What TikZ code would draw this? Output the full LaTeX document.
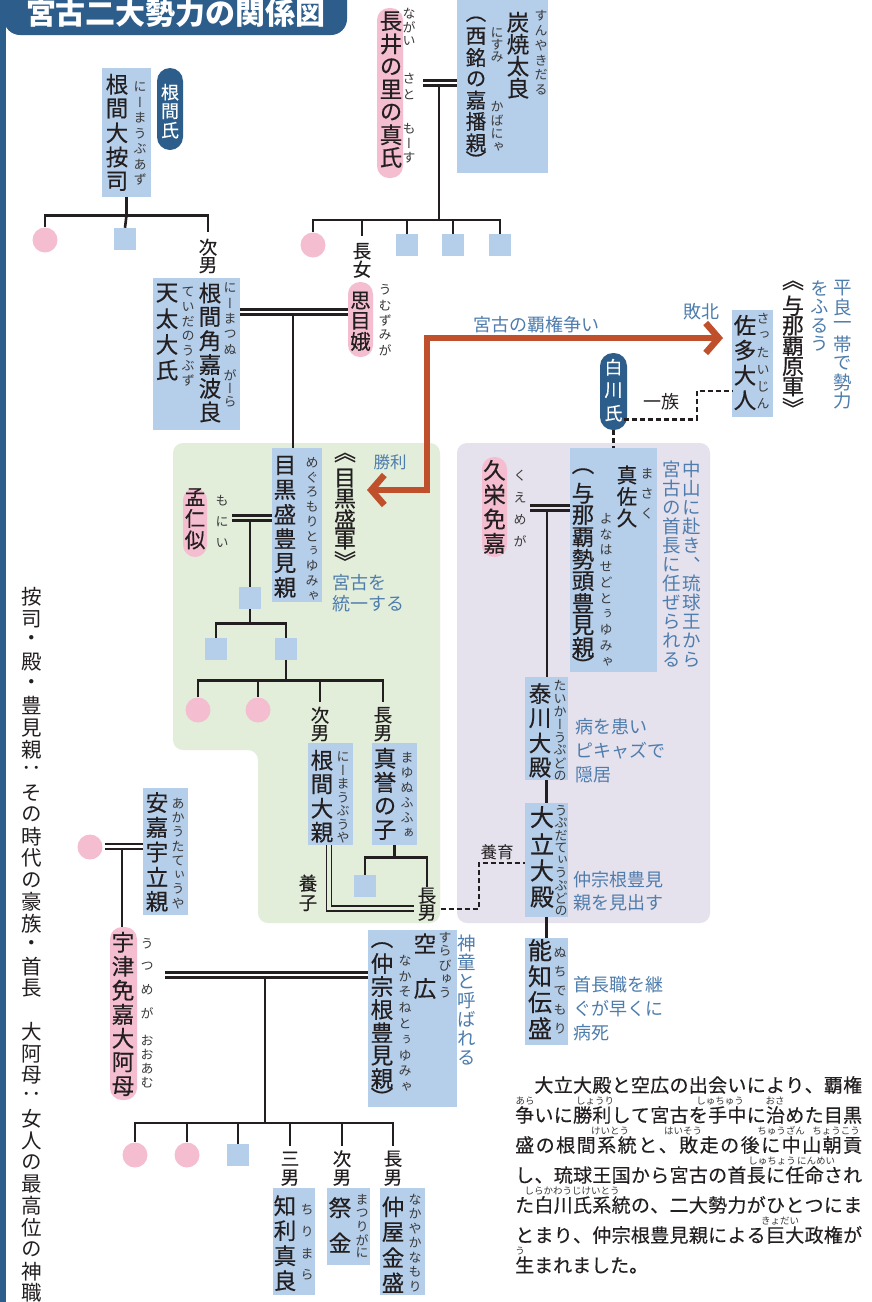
\documentclass[tikz,border=0pt]{standalone}
\usepackage{fontspec}
\setmainfont{Noto Sans CJK JP}
\newfontfamily\vjp[RawFeature=+vert]{Noto Sans CJK JP}
\newfontfamily\vjpm[RawFeature=+vert,FakeBold=0.4]{Noto Sans CJK JP}
\newfontfamily\hjpm[FakeBold=0.3]{Noto Sans CJK JP}
\usetikzlibrary{arrows.meta,calc}
\definecolor{ink}{HTML}{231F20}
\definecolor{dblue}{HTML}{2D5E8B}
\definecolor{boxblue}{HTML}{B5CEEA}
\definecolor{pinkc}{HTML}{F4BDD0}
\definecolor{greenbg}{HTML}{E2EEDA}
\definecolor{purplebg}{HTML}{E5E1ED}
\definecolor{bgray}{HTML}{4E7DAD}
\definecolor{orangec}{HTML}{C0502C}
\definecolor{rubyc}{HTML}{3A3A3A}
\makeatletter
\newdimen\vt@cur \newdimen\vt@step
\newcommand\vtsh{\global\vt@cur=0.6\vt@step}
\newcommand\vtxt[2]{\vt@step=#1pt\relax\vbox{\offinterlineskip\@tfor\vt@c:=#2\do{\global\vt@cur=\vt@step\setbox0=\hbox{\vt@c}\vbox to\vt@cur{\vss\hbox to 1.05em{\hss\box0\hss}\vss}}}}
\newcommand\jline[2][347pt]{\hbox to #1{\@tfor\jl@c:=#2\do{\jl@c\hfil}\unskip}}
\makeatother
\newcommand\VT[5][]{\node[vt,#1] (#2) at (#3) {\vtxt{#4}{#5}};}
\tikzset{
 vt/.style={inner sep=0pt, anchor=north},
 nm/.style={font=\vjpm\fontsize{22.5}{22}\selectfont, text=ink},
 nms/.style={font=\vjpm\fontsize{20.5}{20}\selectfont, text=ink},
 nmk/.style={font=\vjpm\fontsize{22}{22}\selectfont, text=ink},
 nmb/.style={font=\vjpm\fontsize{24}{24}\selectfont, text=ink},
 rb/.style={font=\vjp\fontsize{13}{13}\selectfont, text=rubyc},
 lb/.style={font=\vjpm\fontsize{18.5}{18}\selectfont, text=ink},
 nt/.style={font=\vjp\fontsize{18.5}{18}\selectfont, text=bgray},
 wt/.style={font=\vjpm\fontsize{18}{18}\selectfont, text=white},
 ht/.style={font=\fontsize{18}{18}\selectfont, text=bgray, inner sep=0pt},
 hta/.style={ht, anchor=west},
 para/.style={font=\hjpm\fontsize{19}{19}\selectfont, text=ink, inner sep=0pt, anchor=west},
 pr/.style={font=\fontsize{9.5}{9.5}\selectfont, text=rubyc, inner sep=0pt},
 bx/.style={rectangle, fill=boxblue, inner sep=0pt},
 pk/.style={rectangle, fill=pinkc, inner sep=0pt, rounded corners=12pt},
 bd/.style={rectangle, fill=dblue, inner sep=0pt, rounded corners=13pt},
 pc/.style={circle, fill=pinkc, inner sep=0pt, minimum size=25pt},
 sq/.style={rectangle, fill=boxblue, inner sep=0pt, minimum size=22pt},
 ln/.style={draw=ink, line width=2.6pt},
 dl/.style={draw=ink, line width=2.2pt, dash pattern=on 5pt off 3pt},
 dbl/.style={draw=ink, line width=2.3pt, double=white, double distance=2.8pt},
 dbltwo/.style={draw=ink, line width=1.7pt, double=greenbg, double distance=3.4pt},
 harrow/.style={draw=orangec, line width=6.5pt, {Straight Barb[length=13pt,width=30pt]}-{Straight Barb[length=13pt,width=30pt]}},
}
\begin{document}
\begin{tikzpicture}[x=1pt,y=-1pt]
\useasboundingbox (0,0) rectangle (872,1302);
\fill[white] (0,0) rectangle (872,1302);
% backgrounds
\fill[greenbg, rounded corners=10pt] (173,443) -- (440,443) -- (440,923) -- (258,923) -- (258,750) -- (173,750) -- cycle;
\fill[purplebg, rounded corners=10pt] (457,443) rectangle (710,923);
% title and side bar
\fill[dblue] (0,0) rectangle (6,1302);
\fill[dblue, rounded corners=16pt] (4,-30) rectangle (347,35);
\node[font=\bfseries\fontsize{30}{30}\selectfont, text=white, inner sep=0pt] (title) at (176,13) {宮古二大勢力の関係図};

% boxes
\node[bx, minimum width=49pt, minimum height=129pt] (b1) at (126.5,132.5) {};
\node[bx, minimum width=91pt, minimum height=175pt] (b2) at (502.5,85.5) {};
\node[bx, minimum width=87pt, minimum height=152pt] (b3) at (196.5,354) {};
\node[bx, minimum width=41pt, minimum height=107pt] (b4) at (752.5,363.5) {};
\node[bx, minimum width=50pt, minimum height=154pt] (b5) at (297,525) {};
\node[bx, minimum width=87pt, minimum height=224pt] (b6) at (613.5,560) {};
\node[bx, minimum width=43pt, minimum height=103pt] (b7) at (546.5,728.5) {};
\node[bx, minimum width=43pt, minimum height=114pt] (b8) at (546.5,860) {};
\node[bx, minimum width=43pt, minimum height=107pt] (b9) at (546.5,991.5) {};
\node[bx, minimum width=45pt, minimum height=102pt] (b10) at (330.5,794) {};
\node[bx, minimum width=45pt, minimum height=102pt] (b11) at (394.5,794) {};
\node[bx, minimum width=89pt, minimum height=177pt] (b12) at (412.5,1018.5) {};
\node[bx, minimum width=45pt, minimum height=127pt] (b13) at (165.5,851.5) {};
\node[bx, minimum width=42pt, minimum height=107pt] (b14) at (294,1241.5) {};
\node[bx, minimum width=43pt, minimum height=77pt] (b15) at (348.5,1226.5) {};
\node[bx, minimum width=45pt, minimum height=107pt] (b16) at (402.5,1241.5) {};
% pink pills
\node[pk, minimum width=26pt, minimum height=170pt] (p1) at (390,93) {};
\node[pk, minimum width=25pt, minimum height=75pt] (p2) at (360.5,319.5) {};
\node[pk, minimum width=24pt, minimum height=69pt] (p3) at (195,522.5) {};
\node[pk, minimum width=25pt, minimum height=100pt] (p4) at (494.5,507) {};
\node[pk, minimum width=27pt, minimum height=173pt] (p5) at (123.5,1013.5) {};
% badges
\node[bd, minimum width=26pt, minimum height=82pt] (bd1) at (170,109) {};
\node[bd, minimum width=27pt, minimum height=77pt] (bd2) at (613.5,391.5) {};
% circles and squares
\node[pc] (c1a) at (45,240) {};
\node[sq] (s1a) at (125,239) {};
\node[pc] (c2a) at (313,245) {};
\node[sq] (s2a) at (407,245) {};
\node[sq] (s2b) at (453,245) {};
\node[sq] (s2c) at (500,245) {};
\node[sq] (s4a) at (250,598) {};
\node[sq] (s4b) at (216,649) {};
\node[sq] (s4c) at (286,649) {};
\node[pc] (c5a) at (198,710) {};
\node[pc] (c5b) at (258,710) {};
\node[sq] (s6a) at (365,886) {};
\node[pc] (c8) at (90,847) {};
\node[pc] (c9a) at (135,1155) {};
\node[pc] (c9b) at (187,1155) {};
\node[sq] (s9) at (238,1155) {};

% vertical texts
\VT[nm]{t1}{117,72}{24.25}{根間大按司}
\VT[rb]{r1}{140,79}{15.5}{にーまうぶあず}
\VT[wt]{t1c}{170,82.5}{19}{根間氏}
\VT[nm]{t2}{391,9.7}{22.7}{長井の里の真氏}
\VT[rb]{r2a}{409,7}{13.5}{ながい}
\VT[rb]{r2b}{409,70}{16}{さと}
\VT[rb]{r2c}{409,121}{14.5}{もーす}
\VT[nm]{t3a}{518,11}{22}{炭焼太良}
\VT[rb]{r3a}{541,7.5}{15}{すんやきだる}
\VT[nms]{t3b}{476,12.6}{21.3}{{\vtsh（}西銘の嘉播親{\vtsh）}}
\VT[rb]{r3b}{497,26}{12.5}{にすみ}
\VT[rb]{r3c}{497,100}{13.3}{かばにゃ}
\VT[lb]{l4}{362,242}{18}{長女}
\VT[nms]{t4}{360.5,290}{20.5}{思目娥}
\VT[rb]{r4}{385,282.5}{15}{うむずみが}
\VT[lb]{l5}{208,238}{18}{次男}
\VT[nm]{t5a}{210,281}{23.8}{根間角嘉波良}
\VT[rb]{r5a}{230,280}{15.5}{にーまつぬ}
\VT[rb]{r5b}{230,369}{13}{がーら}
\VT[nm]{t5b}{167,280}{25.7}{天太大氏}
\VT[rb]{r5c}{188,284.6}{14.7}{ていだのうぶず}
\VT[nm]{t6}{745,312.5}{25}{佐多大人}
\VT[rb]{r6}{763,310}{17}{さったいじん}
\VT[nmk]{t6b}{793,275}{20.3}{《与那覇原軍》}
\VT[nt]{n6a}{843,279}{18.7}{平良一帯で勢力}
\VT[nt]{n6b}{820,279}{18.5}{をふるう}
\VT[wt]{t7c}{613.5,355.5}{23}{白川氏}
\VT[nm]{t8}{285,453}{24.4}{目黒盛豊見親}
\VT[rb]{r8}{312,455}{14.8}{めぐろもりとぅゆみゃ}
\VT[nmk]{t8b}{345,447}{20.6}{《目黒盛軍》}
\VT[nms]{t9}{195,486}{21.5}{孟仁似}
\VT[rb]{r9}{222,490}{21}{もにい}
\VT[lb]{l6a}{320,706}{18}{次男}
\VT[lb]{l6b}{383,706}{18}{長男}
\VT[nm]{t10}{322,748}{24}{根間大親}
\VT[rb]{r10}{343,750}{13.5}{にーまうぶうや}
\VT[nm]{t11}{385,746}{24}{真誉の子}
\VT[rb]{r11}{407,750}{15}{まゆぬふふぁ}
\VT[lb]{l7y}{308,873}{20}{養子}
\VT[lb]{l7}{427,887}{17}{長男}
\VT[nms]{t12a}{627,464}{21.5}{真佐久}
\VT[rb]{r12a}{647,463}{20}{まさく}
\VT[nm]{t12b}{583,460}{22}{（与那覇勢頭豊見親{\vtsh）}}
\VT[rb]{r12b}{606,510}{16}{よなはせどとぅゆみゃ}
\VT[nm]{t13}{494.5,458}{24.3}{久栄免嘉}
\VT[rb]{r13}{520,464}{22}{くえめが}
\VT[nt]{n12a}{692,460}{19}{中山に赴き、琉球王から}
\VT[nt]{n12b}{672,460}{19}{宮古の首長に任ぜられる}
\VT[nm]{t14}{540,681}{24.7}{泰川大殿}
\VT[rb]{r14}{560,679}{12.9}{たいかーうぷどの}
\VT[nmb]{t15}{542,803.5}{26.7}{大立大殿}
\VT[rb]{r15}{561,804}{12.5}{うぷだてぃうぷどの}
\VT[nmb]{t16}{540,937}{26}{能知伝盛}
\VT[rb]{r16}{560,943}{19}{ぬちでもり}
\VT[nm]{t17a}{425,932}{22.5}{空　広}
\VT[rb]{r17a}{445,930}{14}{すらびゅう}
\VT[nm]{t17b}{382,938}{23}{{\vtsh（}仲宗根豊見親{\vtsh）}}
\VT[rb]{r17b}{405,952}{15.9}{なかそねとぅゆみゃ}
\VT[nt]{n17}{467,934}{19}{神童と呼ばれる}
\VT[nm]{t18}{157,790}{24.7}{安嘉宇立親}
\VT[rb]{r18}{178,796}{14.3}{あかうたてぃうや}
\VT[nm]{t19}{123,930}{24}{宇津免嘉大阿母}
\VT[rb]{r19a}{147,932}{23}{うつめが}
\VT[rb]{r19b}{147,1033}{14}{おおあむ}
\VT[lb]{l9a}{290,1149}{19}{三男}
\VT[lb]{l9b}{342,1149}{19}{次男}
\VT[lb]{l9c}{393,1149}{19}{長男}
\VT[nm]{t20a}{285,1193}{25}{知利真良}
\VT[rb]{r20a}{307,1199}{21.7}{ちりまら}
\VT[nm]{t20b}{340,1190}{35}{祭金}
\VT[rb]{r20b}{362,1193}{13.3}{まつりがに}
\VT[nm]{t20c}{393,1194}{25.3}{仲屋金盛}
\VT[rb]{r20c}{415,1192}{14.5}{なかやかなもり}
\VT[font=\vjp\fontsize{20.5}{20}\selectfont, text=ink]{side}{32,586}{21.75}{按司・殿・豊見親：その時代の豪族・首長　大阿母：女人の最高位の神職}

% horizontal notes
\node[ht] (hasen) at (536,325) {宮古の覇権争い};
\node[ht] (haiboku) at (701,312) {敗北};
\node[ht, font=\fontsize{16.5}{16}\selectfont] (shori) at (390,462) {勝利};
\node[ht, text=ink] (ichizoku) at (661,402) {一族};
\node[ht, text=ink, font=\fontsize{16.5}{16}\selectfont] (yoiku) at (497,852) {養育};
\node[hta] (tou1) at (332,583) {宮古を};
\node[hta] (tou2) at (332,604) {統一する};
\node[hta] (byo1) at (575,727) {病を患い};
\node[hta] (byo2) at (575,751) {ピキャズで};
\node[hta] (byo3) at (575,775) {隠居};
\node[hta] (mida1) at (573,880) {仲宗根豊見};
\node[hta] (mida2) at (573,903) {親を見出す};
\node[hta] (shu1) at (573,985) {首長職を継};
\node[hta] (shu2) at (573,1009) {ぐが早くに};
\node[hta] (shu3) at (573,1033) {病死};

% paragraph
\node[para] (pl1) at (515,1085) {\jline{　大立大殿と空広の出会いにより、覇権}};
\node[para] (pl2) at (515,1115) {\jline{争いに勝利して宮古を手中に治めた目黒}};
\node[para] (pl3) at (515,1145) {\jline{盛の根間系統と、敗走の後に中山朝貢}};
\node[para] (pl4) at (515,1175) {\jline{し、琉球王国から宮古の首長に任命され}};
\node[para] (pl5) at (515,1205) {\jline{た白川氏系統の、二大勢力がひとつにま}};
\node[para] (pl6) at (515,1235) {\jline{とまり、仲宗根豊見親による巨大政権が}};
\node[para] (pl7) at (515,1265) {生まれました。};
\node[pr] (q1) at (525,1101) {あら};
\node[pr] (q2) at (595,1101) {しょうり};
\node[pr] (q3) at (720,1101) {しゅちゅう};
\node[pr] (q4) at (775,1101) {おさ};
\node[pr] (q5) at (610,1131) {けいとう};
\node[pr] (q6) at (683,1131) {はいそう};
\node[pr] (q7) at (781,1131) {ちゅうざん};
\node[pr] (q8) at (836,1131) {ちょうこう};
\node[pr] (q9) at (772,1161) {しゅちょう};
\node[pr] (q10) at (816,1161) {にんめい};
\node[pr] (q11) at (572,1191) {しらかわうじけいとう};
\node[pr] (q12) at (780,1221) {きょだい};
\node[pr] (q13) at (520,1251) {う};

% ---- connectors ----
% family 1
\draw[ln] (b1.south) -- ++(0,18) coordinate (j1);
\draw[ln] (j1) -| (c1a.north);
\draw[ln] (j1) -- (s1a.north);
\draw[ln, shorten >=6pt] (j1) -| (l5.north);
% family 2
\coordinate (m2) at (439,83);
\draw[dbl] ($(m2)+(-16,0)$) -- (m2 -| b2.west);
\draw[ln] ($(m2)+(0,2.5)$) -- (439,220) coordinate (j2);
\draw[ln] (j2) -| (c2a.north);
\draw[ln, shorten >=6pt] (j2) -| (l4.north);
\draw[ln] (j2) -| (s2a.north);
\draw[ln] (j2) -| (s2b.north);
\draw[ln] (j2) -| (s2c.north);
% family 3
\coordinate (m3) at (293,312);
\draw[dbl] (m3 -| b3.east) -- (m3 -| p2.west);
\draw[ln] ($(m3)+(0,2.5)$) -- (m3 |- b5.north);
% family 4
\coordinate (m4) at (250,518);
\draw[dbl, double=greenbg] ($(m4)+(-18,0)$) -- (m4 -| b5.west);
\draw[ln] ($(m4)+(0,2.5)$) -- (s4a.north);
\draw[ln] (s4a.south) -- ++(0,14) coordinate (j4);
\draw[ln] (j4) -| (s4b.north);
\draw[ln] (j4) -| (s4c.north);
\draw[ln] (s4c.south) -- ++(0,20) coordinate (j5);
\draw[ln] (j5) -| (c5a.north);
\draw[ln] (j5) -| (c5b.north);
\draw[ln, shorten >=4pt] (j5) -| (l6a.north);
\draw[ln, shorten >=4pt] (j5) -| (l6b.north);
% 真誉の子
\draw[ln] (b11.south) -- ++(0,12) coordinate (j6);
\draw[ln] (j6) -| (s6a.north);
\draw[ln] (j6) -| (l7.north);
% 養子
\draw[dbltwo] ($(b10.south)+(-1.5,0)$) |- ($(l7.west)+(-3,4)$);
% 養育
\coordinate (d1) at (479,863);
\draw[dl] ($(l7.east)+(4,5)$) -| (d1) -- (d1 -| b8.west);
% 白川氏
\draw[dl] (bd2.south) -- (bd2.south |- b6.north);
\coordinate (d2) at (697,391);
\draw[dl] ($(bd2.east)+(-3,28)$) -| (d2) -- (d2 -| b4.west);
% 久栄免嘉
\coordinate (m7) at (547,508);
\draw[dbl, double=purplebg] ($(m7)+(-17,0)$) -- (m7 -| b6.west);
\draw[ln] ($(m7)+(0,2.5)$) -- (m7 |- b7.north);
\draw[ln] (b7.south) -- (b8.north);
\draw[ln] (b8.south) -- (b9.north);
% 安嘉宇立親
\coordinate (m8) at (122,846.5);
\draw[dbl] ($(m8 -| c8.east)+(2,0)$) -- (m8 -| b13.west);
\draw[ln] ($(m8)+(0,2.5)$) -- (m8 |- p5.north);
% 宇津免嘉大阿母
\coordinate (m9) at (265,975);
\draw[dbl] ($(m9 -| p5.east)+(28,0)$) -- (m9 -| b12.west);
\draw[ln] ($(m9)+(0,2.5)$) -- (265,1123) coordinate (j9);
\draw[ln] (j9) -| (c9a.north);
\draw[ln] (j9) -| (c9b.north);
\draw[ln] (j9) -| (s9.north);
\draw[ln, shorten >=3pt] (j9) -| (l9a.north);
\draw[ln, shorten >=3pt] (j9) -| (l9b.north);
\draw[ln, shorten >=3pt] (j9) -| (l9c.north);
% orange arrow
\coordinate (aL) at (367,490);
\coordinate (aK) at (427,490);
\coordinate (aT) at (427,338);
\coordinate (aR) at (723,338);
\draw[harrow] (aL) -- (aK) -- (aT) -- (aR);
\end{tikzpicture}
\end{document}
